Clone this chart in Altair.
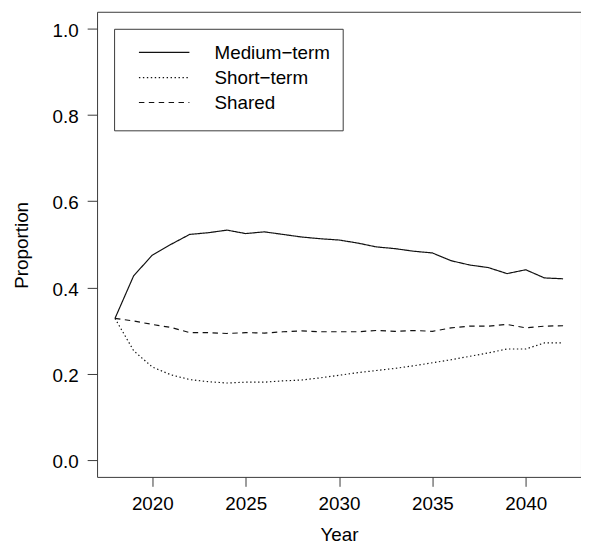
import altair as alt
import pandas as pd

years = list(range(2018, 2043))
medium = [0.328, 0.427, 0.475, 0.500, 0.523, 0.527, 0.533, 0.525, 0.529, 0.523, 0.517, 0.513, 0.510,
          0.503, 0.494, 0.490, 0.484, 0.480, 0.462, 0.452, 0.446, 0.432, 0.441, 0.422, 0.420]
short = [0.328, 0.253, 0.215, 0.197, 0.186, 0.181, 0.178, 0.180, 0.180, 0.183, 0.185, 0.190, 0.196,
         0.202, 0.207, 0.212, 0.218, 0.225, 0.232, 0.240, 0.248, 0.257, 0.257, 0.271, 0.271]
shared = [0.328, 0.322, 0.314, 0.307, 0.295, 0.295, 0.293, 0.295, 0.294, 0.297, 0.299, 0.297, 0.297,
          0.297, 0.300, 0.298, 0.300, 0.298, 0.306, 0.310, 0.310, 0.314, 0.306, 0.310, 0.311]
series_names = ["Medium\u2212term", "Short\u2212term", "Shared"]
x_ticks = [2020, 2025, 2030, 2035, 2040]
y_ticks = [0.0, 0.2, 0.4, 0.6, 0.8, 1.0]

dashes = [[1, 0], [1.4, 2.6], [5.5, 4.5]]
FONT = "Liberation Sans"
INK = "#111111"
FRAME = "#3a3a3a"

rows = []
for name, vals in zip(series_names, [medium, short, shared]):
    for yr, v in zip(years, vals):
        rows.append({"Year": yr, "Proportion": v, "series": name})
df = pd.DataFrame(rows)

W, H = 489, 470

lines = alt.Chart(df).mark_line(strokeWidth=1.2, color=INK).encode(
    x=alt.X("Year:Q",
            scale=alt.Scale(domain=[2017.04, 2042.96], nice=False, zero=False),
            axis=alt.Axis(values=x_ticks, format="d", title="Year",
                          tickSize=9.5, labelPadding=8.2,
                          titleX=244.4, titleY=64.3, titleBaseline="alphabetic",
                          titleAlign="center")),
    y=alt.Y("Proportion:Q",
            scale=alt.Scale(domain=[-0.04, 1.04], nice=False, zero=False),
            axis=alt.Axis(values=y_ticks, format=".1f", title="Proportion",
                          tickSize=10, labelPadding=9, labelBaseline="alphabetic",
                          labelOffset=7.8,
                          titleAngle=270, titleX=-70.5, titleY=235.5,
                          titleBaseline="alphabetic", titleAlign="center")),
    strokeDash=alt.StrokeDash("series:N",
                              scale=alt.Scale(domain=series_names, range=dashes),
                              legend=None),
    detail="series:N",
)

# legend drawn as a box with sample lines and labels
box = alt.Chart(pd.DataFrame({"k": [0]})).mark_rect(
    fill="white", stroke=FRAME, strokeWidth=1
).encode(
    x=alt.value(17.7), x2=alt.value(248.7), y=alt.value(17.7), y2=alt.value(120.3)
)

legend_layers = [box]
row_y = [41.0, 66.5, 91.7]
for name, dash, ry in zip(series_names, dashes, row_y):
    ldf = pd.DataFrame({"series": [name]})
    legend_layers.append(
        alt.Chart(ldf).mark_rule(strokeWidth=1.2, color=INK, strokeDash=dash).encode(
            x=alt.value(42.3), x2=alt.value(93.3), y=alt.value(ry)
        )
    )
    legend_layers.append(
        alt.Chart(ldf).mark_text(align="left", baseline="middle", font=FONT,
                                 fontSize=19, color="black", dy=0.5).encode(
            x=alt.value(118.7), y=alt.value(ry), text="series:N"
        )
    )

chart = alt.layer(lines, *legend_layers).properties(
    width=W, height=H,
    autosize=alt.AutoSizeParams(type="none"),
    padding={"left": 90, "top": 1, "right": 0, "bottom": 66},
    background="white",
).configure_view(
    stroke=FRAME, strokeWidth=1
).configure_axis(
    domain=False, grid=False, ticks=True, tickColor=FRAME, tickWidth=1,
    labelFont=FONT, labelFontSize=19, labelColor="black",
    titleFont=FONT, titleFontSize=19, titleColor="black", titleFontWeight="normal",
)

chart.save("out.html", embed_options={"renderer": "svg", "actions": False})
